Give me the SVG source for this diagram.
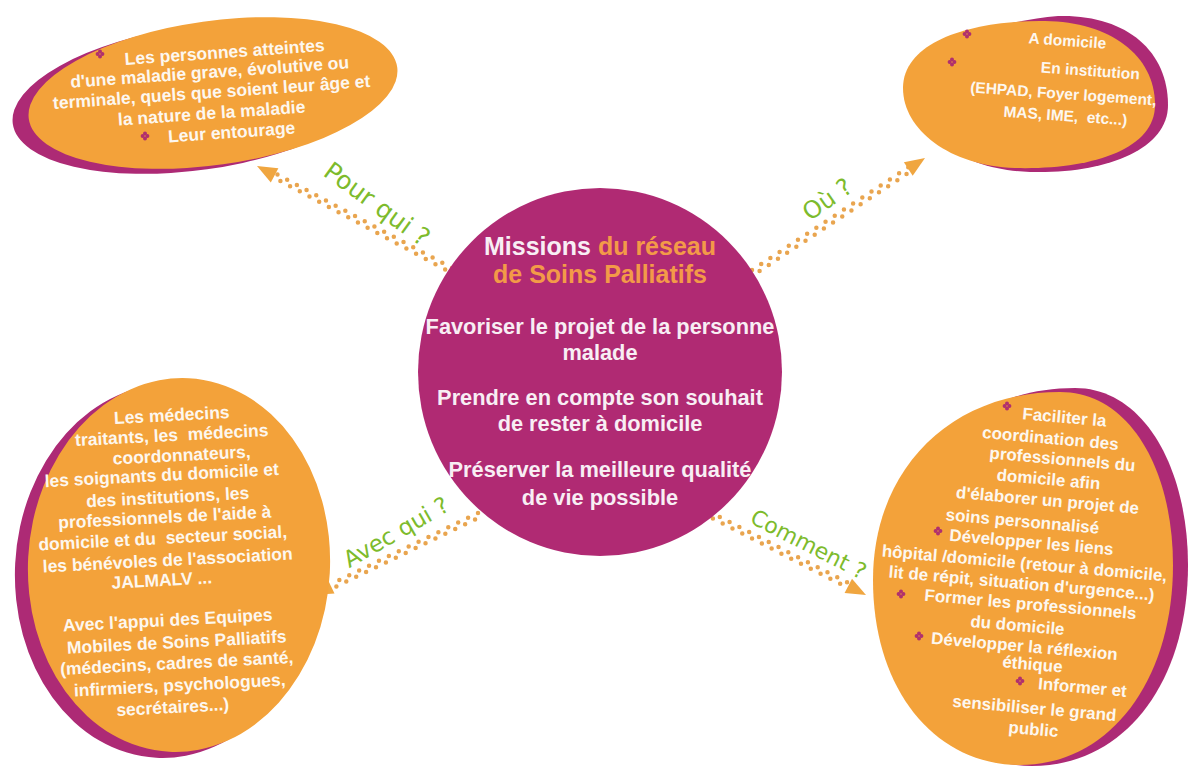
<svg xmlns="http://www.w3.org/2000/svg" width="1190" height="774" viewBox="0 0 1190 774">
  <style>
    .shade { fill: #ad2a75; }
    .bubble { fill: #f3a23a; }
    .core { fill: #b02a73; }
    .txt { font-family: "Liberation Sans", Arial, sans-serif; font-weight: bold; fill: #fdf7ef; text-anchor: middle; white-space: pre; }
    .tl { font-size: 17.5px; }
    .tr { font-size: 15.5px; }
    .bl { font-size: 17.5px; }
    .br { font-size: 17px; }
    .core-txt { font-family: "Liberation Sans", Arial, sans-serif; font-weight: bold; fill: #f8eef4; text-anchor: middle; font-size: 21.8px; }
    .title { font-size: 25px; }
    .accent { fill: #f39a48; }
    .lbl { font-family: "DejaVu Sans", "Liberation Sans", sans-serif; fill: #7dbb2c; text-anchor: middle; }
    .dots { fill: none; stroke: #e9a54f; stroke-width: 4.5; stroke-linecap: round; stroke-dasharray: 0 11; }
    .head { fill: #f0a640; }
  </style>
  <defs>
    <!-- four-dot bullet -->
    <symbol id="bul" viewBox="-5 -5 10 10" overflow="visible">
      <circle cx="0" cy="-2.4" r="2" fill="#b0306e"/>
      <circle cx="2.4" cy="0" r="2" fill="#b0306e"/>
      <circle cx="0" cy="2.4" r="2" fill="#b0306e"/>
      <circle cx="-2.4" cy="0" r="2" fill="#b0306e"/>
    </symbol>
  </defs>

  <rect width="1190" height="774" fill="#ffffff"/>

  <!-- connectors: double rows of dots ending in a small arrowhead -->
  <g id="connectors">
    <g id="c-pour">
      <path class="dots" d="M452,268 L275.6,173.5"/>
      <path class="dots" d="M450,272 L273.6,177.3" stroke-dashoffset="5.5"/>
      <polygon class="head" points="257,166 278.4,168.3 270.8,182.5"/>
    </g>
    <g id="c-ou">
      <path class="dots" d="M752,270 L909.5,166.5"/>
      <path class="dots" d="M755,274 L912,170.5" stroke-dashoffset="5.5"/>
      <polygon class="head" points="925,158 912.7,175.7 903.9,162.3"/>
    </g>
    <g id="c-avec">
      <path class="dots" d="M478,513 L330,584.5"/>
      <path class="dots" d="M480,517 L332,588.5" stroke-dashoffset="5.5"/>
      <polygon class="head" points="313,595 334.5,593.4 327.5,579"/>
    </g>
    <g id="c-comment">
      <path class="dots" d="M710,512 L849.5,583.5"/>
      <path class="dots" d="M708,516 L847.5,587.5" stroke-dashoffset="5.5"/>
      <polygon class="head" points="866,595 844.6,592.9 852,578.7"/>
    </g>
    <text class="lbl" font-size="25" transform="translate(372,211) rotate(36)">Pour qui ?</text>
    <text class="lbl" font-size="24" transform="translate(832,206) rotate(-35)">Où ?</text>
    <text class="lbl" font-size="23" transform="translate(400,539) rotate(-30)">Avec qui ?</text>
    <text class="lbl" font-size="22" transform="translate(805,551) rotate(27)">Comment ?</text>
  </g>

  <!-- central node -->
  <g id="missions">
    <ellipse class="core" cx="600" cy="372" rx="182" ry="184"/>
    <text class="core-txt title"><tspan x="600" y="255">Missions <tspan class="accent">du réseau</tspan></tspan><tspan class="accent" x="600" y="283">de Soins Palliatifs</tspan></text>
    <text class="core-txt" x="600" y="334">Favoriser le projet de la personne</text>
    <text class="core-txt" x="600" y="360">malade</text>
    <text class="core-txt" x="600" y="405">Prendre en compte son souhait</text>
    <text class="core-txt" x="600" y="431">de rester à domicile</text>
    <text class="core-txt" x="600" y="477">Préserver la meilleure qualité</text>
    <text class="core-txt" x="600" y="505">de vie possible</text>
  </g>

  <!-- who: top left -->
  <g id="pour-qui">
    <ellipse class="shade" cx="197" cy="98" rx="186" ry="72" transform="rotate(-8 197 98)"/>
    <ellipse class="bubble" cx="213" cy="93" rx="186" ry="72" transform="rotate(-8 213 93)"/>
    <use href="#bul" x="95" y="49" width="10" height="10"/>
    <text class="txt tl" x="225" y="58" transform="rotate(-4 225 58)">Les personnes atteintes</text>
    <text class="txt tl" x="210" y="78" transform="rotate(-4 210 78)">d'une maladie grave, évolutive ou</text>
    <text class="txt tl" x="212" y="98" transform="rotate(-4 212 98)">terminale, quels que soient leur âge et</text>
    <text class="txt tl" x="212" y="119" transform="rotate(-4 212 119)">la nature de la maladie</text>
    <use href="#bul" x="140" y="131" width="10" height="10"/>
    <text class="txt tl" x="232" y="138" transform="rotate(-4 232 138)">Leur entourage</text>
  </g>

  <!-- where: top right -->
  <g id="ou">
    <path class="shade" d="M918,95 C918,48 990,22 1058,16 C1125,14 1168,50 1168,105 C1168,150 1105,174 1030,172 C965,170 918,138 918,95 Z"/>
    <path class="bubble" d="M903,88 C903,40 975,20 1045,21 C1110,22 1155,55 1155,105 C1155,150 1090,170 1015,168 C950,166 903,130 903,88 Z"/>
    <use href="#bul" x="962" y="29" width="10" height="10"/>
    <text class="txt tr" x="1067" y="46" transform="rotate(4 1067 46)">A domicile</text>
    <use href="#bul" x="947" y="57" width="10" height="10"/>
    <text class="txt tr" x="1090" y="76" transform="rotate(4 1090 76)">En institution</text>
    <text class="txt tr" x="1063" y="99" transform="rotate(4 1063 99)">(EHPAD, Foyer logement,</text>
    <text class="txt tr" x="1065" y="121" transform="rotate(4 1065 121)">MAS, IME,  etc...)</text>
  </g>

  <!-- with whom: bottom left -->
  <g id="avec-qui">
    <ellipse class="shade" cx="166" cy="571" rx="151" ry="187" transform="rotate(3 166 571)"/>
    <ellipse class="bubble" cx="179" cy="565" rx="151" ry="187" transform="rotate(3 179 565)"/>
    <text class="txt bl" x="172" y="421" transform="rotate(-3 172 421)">Les médecins</text>
    <text class="txt bl" x="172" y="441" transform="rotate(-3 172 441)">traitants, les  médecins</text>
    <text class="txt bl" x="182" y="461" transform="rotate(-3 182 461)">coordonnateurs,</text>
    <text class="txt bl" x="162" y="481" transform="rotate(-3 162 481)">les soignants du domicile et</text>
    <text class="txt bl" x="168" y="503" transform="rotate(-3 168 503)">des institutions, les</text>
    <text class="txt bl" x="165" y="523" transform="rotate(-3 165 523)">professionnels de l'aide à</text>
    <text class="txt bl" x="163" y="544" transform="rotate(-3 163 544)">domicile et du  secteur social,</text>
    <text class="txt bl" x="168" y="566" transform="rotate(-3 168 566)">les bénévoles de l'association</text>
    <text class="txt bl" x="162" y="586" transform="rotate(-3 162 586)">JALMALV ...</text>
    <text class="txt bl" x="168" y="626" transform="rotate(-3 168 626)">Avec l'appui des Equipes</text>
    <text class="txt bl" x="177" y="648" transform="rotate(-3 177 648)">Mobiles de Soins Palliatifs</text>
    <text class="txt bl" x="177" y="669" transform="rotate(-3 177 669)">(médecins, cadres de santé,</text>
    <text class="txt bl" x="180" y="691" transform="rotate(-3 180 691)">infirmiers, psychologues,</text>
    <text class="txt bl" x="173" y="713" transform="rotate(-3 173 713)">secrétaires...)</text>
  </g>

  <!-- how: bottom right -->
  <g id="comment">
    <path class="shade" d="M890,578 C890,468 965,388 1075,388 C1145,388 1188,470 1188,565 C1188,682 1125,766 1032,766 C950,766 890,690 890,578 Z"/>
    <path class="bubble" d="M873,580 C873,470 950,392 1060,392 C1130,392 1173,470 1173,565 C1173,680 1110,765 1020,765 C935,765 873,690 873,580 Z"/>
    <use href="#bul" x="1002" y="401" width="10" height="10"/>
    <text class="txt br" x="1064" y="423" transform="rotate(5 1064 423)">Faciliter la</text>
    <text class="txt br" x="1050" y="444" transform="rotate(5 1050 444)">coordination des</text>
    <text class="txt br" x="1062" y="465" transform="rotate(5 1062 465)">professionnels du</text>
    <text class="txt br" x="1048" y="485" transform="rotate(5 1048 485)">domicile afin</text>
    <text class="txt br" x="1047" y="506" transform="rotate(5 1047 506)">d'élaborer un projet de</text>
    <text class="txt br" x="1022" y="527" transform="rotate(5 1022 527)">soins personnalisé</text>
    <use href="#bul" x="933" y="526" width="10" height="10"/>
    <text class="txt br" x="1031" y="548" transform="rotate(5 1031 548)">Développer les liens</text>
    <text class="txt br" x="1024" y="569" transform="rotate(5 1024 569)">hôpital /domicile (retour à domicile,</text>
    <text class="txt br" x="1021" y="589" transform="rotate(5 1021 589)">lit de répit, situation d'urgence...)</text>
    <use href="#bul" x="896" y="589" width="10" height="10"/>
    <text class="txt br" x="1030" y="610" transform="rotate(5 1030 610)">Former les professionnels</text>
    <text class="txt br" x="1017" y="631" transform="rotate(5 1017 631)">du domicile</text>
    <use href="#bul" x="914" y="631" width="10" height="10"/>
    <text class="txt br" x="1024" y="652" transform="rotate(5 1024 652)">Développer la réflexion</text>
    <text class="txt br" x="1032" y="670" transform="rotate(5 1032 670)">éthique</text>
    <use href="#bul" x="1015" y="676" width="10" height="10"/>
    <text class="txt br" x="1082" y="693" transform="rotate(5 1082 693)">Informer et</text>
    <text class="txt br" x="1034" y="714" transform="rotate(5 1034 714)">sensibiliser le grand</text>
    <text class="txt br" x="1033" y="735" transform="rotate(5 1033 735)">public</text>
  </g>
</svg>
